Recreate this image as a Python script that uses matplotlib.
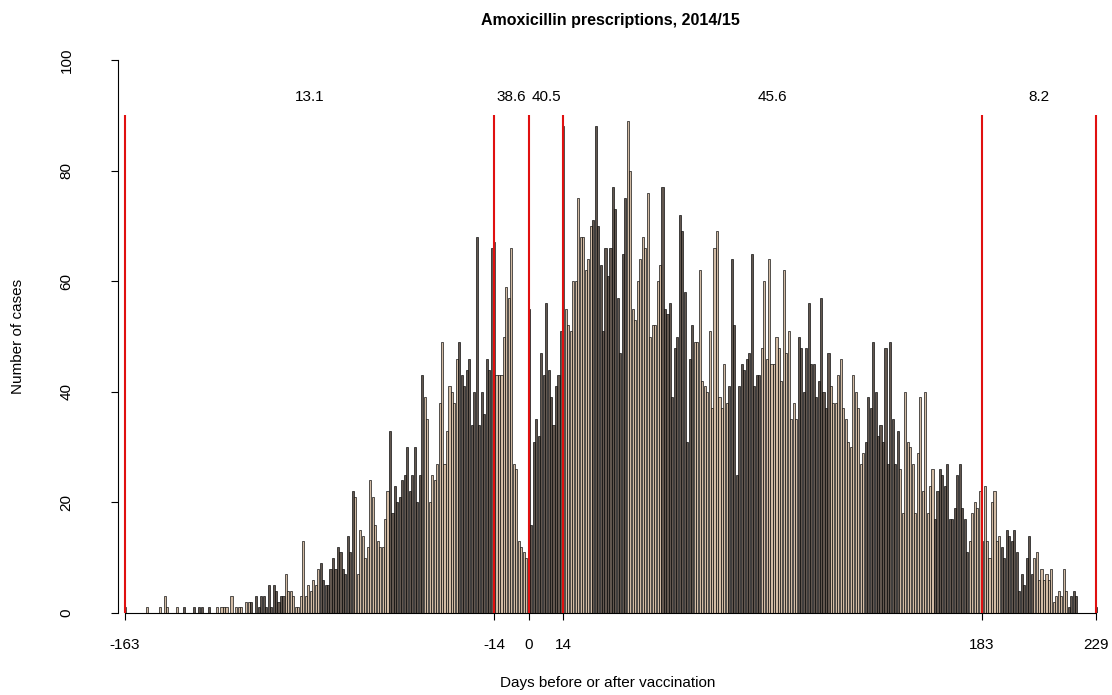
import numpy as np
import matplotlib.pyplot as plt

plt.rcParams['font.family'] = ['Liberation Sans', 'DejaVu Sans']

# Günler (aşıdan önce / sonra) ve vaka sayıları
days = np.arange(-163, 230)
counts = [
    1, 0, 0, 0, 0, 0, 0, 0, 0, 1,        # -163..-154
    0, 0, 0, 0, 1, 0, 3, 1, 0, 0,        # -153..-144
    0, 1, 0, 0, 1, 0, 0, 0, 1, 0,        # -143..-134
    1, 1, 0, 0, 1, 0, 0, 1, 0, 1,        # -133..-124
    1, 1, 0, 3, 0, 1, 1, 1, 0, 2,        # -123..-114
    2, 2, 0, 3, 1, 3, 3, 1, 5, 1,        # -113..-104
    5, 4, 2, 3, 3, 7, 4, 4, 3, 1,        # -103..-94
    1, 3, 13, 3, 5, 4, 6, 5, 8, 9,       # -93..-84
    6, 5, 5, 8, 10, 8, 12, 11, 8, 7,     # -83..-74
    14, 11, 22, 21, 7, 15, 14, 10, 12, 24,   # -73..-64
    21, 16, 13, 12, 12, 17, 22, 33, 18, 23,  # -63..-54
    20, 21, 24, 25, 30, 22, 25, 30, 20, 25,  # -53..-44
    43, 39, 35, 20, 25, 24, 27, 38, 49, 27,  # -43..-34
    33, 41, 40, 38, 46, 49, 43, 41, 44, 46,  # -33..-24
    34, 40, 68, 34, 40, 36, 46, 44, 66, 67,  # -23..-14
    43, 43, 43, 50, 59, 57, 66, 27, 26, 13,  # -13..-4
    12, 11, 10, 55, 16, 31, 35, 32, 47, 43,  # -3..6
    56, 44, 39, 34, 41, 43, 51, 88, 55, 52,  # 7..16
    51, 60, 60, 75, 68, 68, 62, 64, 70, 71,  # 17..26
    88, 70, 63, 51, 66, 61, 66, 77, 73, 57,  # 27..36
    47, 65, 75, 89, 80, 55, 53, 60, 64, 68,  # 37..46
    66, 76, 50, 52, 52, 60, 63, 77, 55, 54,  # 47..56
    56, 39, 48, 50, 72, 69, 58, 31, 46, 52,  # 57..66
    49, 49, 62, 42, 41, 40, 51, 37, 66, 69,  # 67..76
    39, 37, 45, 38, 41, 64, 52, 25, 41, 45,  # 77..86
    44, 46, 47, 65, 41, 43, 43, 48, 60, 46,  # 87..96
    64, 45, 45, 50, 48, 42, 62, 47, 51, 35,  # 97..106
    38, 35, 50, 48, 40, 48, 56, 45, 45, 39,  # 107..116
    42, 57, 40, 37, 47, 41, 38, 38, 43, 46,  # 117..126
    37, 35, 31, 30, 43, 40, 37, 27, 29, 31,  # 127..136
    39, 37, 49, 40, 32, 34, 31, 48, 27, 49,  # 137..146
    35, 27, 33, 26, 18, 40, 31, 30, 27, 18,  # 147..156
    29, 39, 22, 40, 18, 23, 26, 17, 22, 26,  # 157..166
    25, 23, 27, 17, 17, 19, 25, 27, 19, 17,  # 167..176
    11, 13, 18, 20, 19, 22, 13, 23, 13, 10,  # 177..186
    20, 22, 13, 14, 12, 10, 15, 14, 13, 15,  # 187..196
    11, 4, 7, 5, 10, 14, 7, 10, 11, 6,       # 197..206
    8, 6, 7, 6, 8, 2, 3, 4, 3, 8,            # 207..216
    4, 1, 3, 4, 3, 0, 0, 0, 0, 0,            # 217..226
    0, 0, 1,                                 # 227..229
]
assert len(counts) == len(days)

# Dönem sınırları ve her dönemdeki yüzdeler
cut_days = [-163, -14, 0, 14, 183, 229]
period_values = ['13.1', '38.6', '40.5', '45.6', '8.2']

# Koyu renkli iki haftalık bloklar
dark_blocks = [(-140, -126), (-112, -98), (-84, -70), (-56, -42), (-28, -14),
               (0, 14), (26, 40), (54, 67), (81, 94), (109, 122), (136, 150),
               (164, 178), (191, 204), (218, 230)]

tan_col = '#d2bba4'
dark_col = '#62574f'
colors = [dark_col if any(a <= d < b for a, b in dark_blocks) else tan_col for d in days]

W, H = 1112, 695
fig = plt.figure(figsize=(W / 100, H / 100), dpi=100)
ax = fig.add_axes([118 / W, 82 / H, (1100 - 118) / W, (635 - 82) / H])

ax.bar(days, counts, width=0.85, color=colors, edgecolor='black', linewidth=0.45)
ax.vlines(cut_days, 0, 90, color='#e01010', linewidth=1.5, zorder=3)

for i, txt in enumerate(period_values):
    ax.text((cut_days[i] + cut_days[i + 1]) / 2, 93.3, txt, ha='center', va='center', fontsize=11)

ax.set_xlim(-165.8, 230.6)
ax.set_ylim(0, 100)
for s in ['top', 'right']:
    ax.spines[s].set_visible(False)
ax.spines['left'].set_bounds(0, 100)
ax.spines['bottom'].set_bounds(-163, 229)
ax.spines['left'].set_linewidth(0.8)
ax.spines['bottom'].set_linewidth(0.8)

ax.set_xticks(cut_days)
ax.set_xticklabels([str(d) for d in cut_days], fontsize=11)
ax.set_yticks(range(0, 101, 20))
ax.set_yticklabels([str(v) for v in range(0, 101, 20)], fontsize=11, rotation=90, va='center')
ax.tick_params(axis='x', length=5, pad=13)
ax.tick_params(axis='y', length=5, pad=27)

fig.text(610 / W, 1 - 20 / H, 'Amoxicillin prescriptions, 2014/15', ha='center', va='center',
         fontsize=11.5, fontweight='bold')
fig.text(608 / W, 1 - 683 / H, 'Days before or after vaccination', ha='center', va='center', fontsize=11)
fig.text(18 / W, 1 - 336 / H, 'Number of cases', ha='center', va='center', fontsize=11, rotation=90)

plt.savefig('out.png', dpi=100)
